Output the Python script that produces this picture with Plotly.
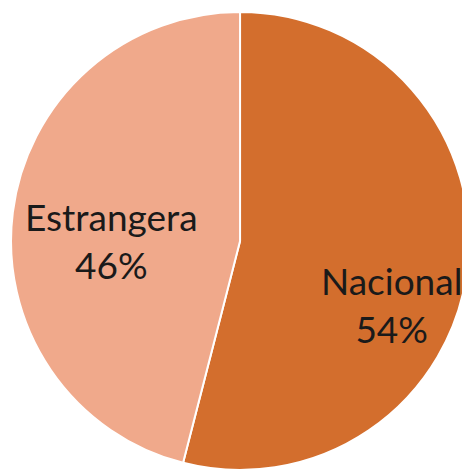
import plotly.graph_objects as go

labels = ["Nacional", "Estrangera"]
values = [54, 46]
colors = ["#D36E2D", "#F0A98B"]

# label anchor points (paper coords) for the data labels
label_x = [0.831, 0.223]
label_y = [0.360, 0.500]

fig = go.Figure(go.Pie(
    labels=labels,
    values=values,
    sort=False,
    direction="clockwise",
    rotation=0,
    marker=dict(colors=colors, line=dict(color="white", width=2)),
    textinfo="none",
    domain=dict(x=[0.0065, 0.998], y=[0.0043, 0.9914]),
    hoverinfo="label+percent",
))

total = sum(values)
for lab, val, lx, ly in zip(labels, values, label_x, label_y):
    fig.add_annotation(
        x=lx, y=ly, xref="paper", yref="paper",
        xanchor="center", yanchor="middle",
        text=f"{lab}<br>{round(100 * val / total)}%",
        showarrow=False,
        font=dict(family="Lato", size=37, color="#1a1a1a"),
        align="center",
    )

fig.update_layout(
    width=462, height=464,
    margin=dict(l=0, r=0, t=0, b=0),
    showlegend=False,
    paper_bgcolor="white",
)

fig.write_html("out.html")
